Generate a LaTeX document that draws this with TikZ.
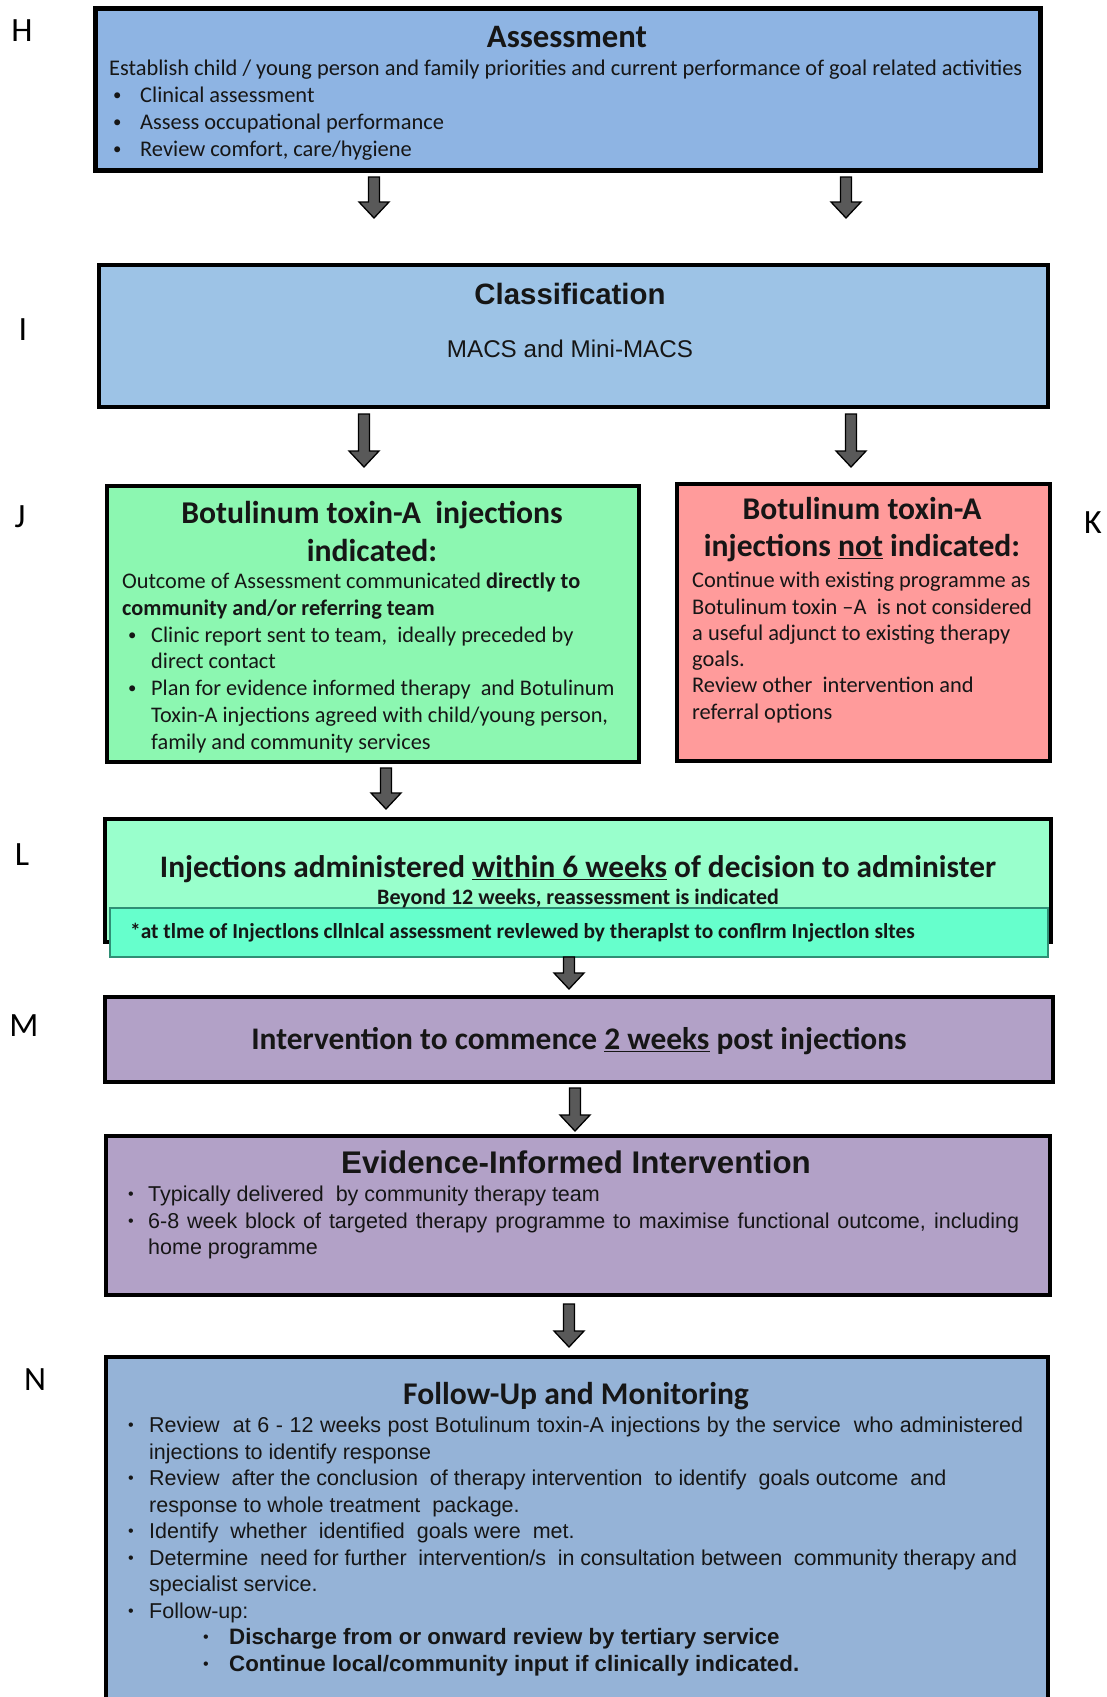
\documentclass[tikz,border=0pt]{standalone}
\usepackage{fontspec}
\usepackage{graphicx}
\setmainfont{Carlito}
\newfontfamily\calfont{Carlito}
\newfontfamily\arialfont{Liberation Sans}
\usetikzlibrary{calc}
\definecolor{cAssess}{HTML}{8EB4E3}
\definecolor{cClass}{HTML}{9DC3E6}
\definecolor{cGreen}{HTML}{8CF7B1}
\definecolor{cRed}{HTML}{FF9B9B}
\definecolor{cMint}{HTML}{99FFCC}
\definecolor{cBand}{HTML}{66FFCC}
\definecolor{cBandEdge}{HTML}{2F8F75}
\definecolor{cPurple}{HTML}{B2A1C7}
\definecolor{cFollow}{HTML}{95B3D7}
\definecolor{cArrow}{HTML}{595959}
\definecolor{cText}{HTML}{161616}
\newcommand\bul{\raisebox{0.1em}{\scalebox{0.75}{•}}}
\tikzset{
  box/.style={draw=black, line width=4pt, inner sep=0pt},
  barrow/.style={fill=cArrow, draw=black, line width=1.3pt, line join=miter},
  txt/.style={text=cText, inner sep=0pt},
  lbl/.style={text=black, inner sep=0pt, font=\calfont\fontsize{34}{40}\selectfont},
  blockL/.style={txt, anchor=north west, align=left},
}
\newcommand\blockarrow[2]{%
  \draw[barrow] (#1) ++(-5.5,0) -- ++(0,#2) -- ++(-9.5,0) -- ++(15,16) -- ++(15,-16) -- ++(-9.5,0) -- ++(0,-#2) -- cycle;}
\begin{document}
\begin{tikzpicture}[x=1pt,y=-1pt]
\fill[white] (0,0) rectangle (1107,1697);
\useasboundingbox (0,0) rectangle (1107,1697);

% ---------- boxes ----------
\node[box, line width=5pt, fill=cAssess, minimum width=945pt, minimum height=162pt] (assess) at (568,89.5) {};
\node[box, fill=cClass, minimum width=949pt, minimum height=142pt] (class) at (573.5,336) {};
\node[box, fill=cGreen, minimum width=532pt, minimum height=276pt] (green) at (373,624) {};
\node[box, fill=cRed, minimum width=373pt, minimum height=277pt] (red) at (863.5,622.5) {};
\node[box, fill=cMint, minimum width=946pt, minimum height=123pt] (inj) at (578,880.5) {};
\node[draw=cBandEdge, fill=cBand, line width=1.5pt, inner sep=0pt, minimum width=938pt, minimum height=49pt] (band) at (579,932.5) {};
\node[box, fill=cPurple, minimum width=948pt, minimum height=85pt] (comm) at (579,1039.5) {};
\node[box, fill=cPurple, minimum width=944pt, minimum height=159pt] (evid) at (578,1215.5) {};
\node[box, fill=cFollow, minimum width=942pt, minimum height=370pt] (follow) at (577,1542) {};

% ---------- arrows ----------
\coordinate (a1) at (374,177);
\coordinate (a2) at (846,177);
\coordinate (a3) at (364,414);
\coordinate (a4) at (851,414);
\coordinate (a5) at (386,768);
\coordinate (a6) at (569,957);
\coordinate (a7) at (575,1088);
\coordinate (a8) at (569,1304);
\blockarrow{a1}{25}
\blockarrow{a2}{25}
\blockarrow{a3}{37}
\blockarrow{a4}{37}
\blockarrow{a5}{25}
\blockarrow{a6}{16}
\blockarrow{a7}{27}
\blockarrow{a8}{27}

% ---------- labels ----------
\node[lbl] (lH) at (22,31) {H};
\node[lbl] (lI) at (23,330) {I};
\node[lbl] (lJ) at (20,517) {J};
\node[lbl] (lK) at (1093,523) {K};
\node[lbl] (lL) at (22,855) {L};
\node[lbl] (lM) at (24,1026) {M};
\node[lbl] (lN) at (35,1380) {N};

% ---------- Assessment ----------
\node[txt, font=\calfont\bfseries\fontsize{32.7}{38}\selectfont] (assessT) at (567,37) {Assessment};
\node[blockL, font=\calfont\fontsize{22.4}{27}\selectfont] (assessB) at (109,60) {Establish child / young person and family priorities and current performance of goal related activities\\
\hspace*{4pt}\makebox[27pt][l]{\bul}Clinical assessment\\
\hspace*{4pt}\makebox[27pt][l]{\bul}Assess occupational performance\\
\hspace*{4pt}\makebox[27pt][l]{\bul}Review comfort, care/hygiene};

% ---------- Classification ----------
\node[txt, font=\arialfont\bfseries\fontsize{29.4}{34}\selectfont] (classT) at (570,294) {Classification};
\node[txt, font=\arialfont\fontsize{24.2}{28}\selectfont] (classB) at (570,349) {MACS and Mini-MACS};

% ---------- indicated ----------
\node[txt, align=center, font=\calfont\bfseries\fontsize{31.7}{38}\selectfont] (greenT) at (372,531) {Botulinum toxin-A\ \ injections\\indicated:};
\node[blockL, font=\calfont\fontsize{22.3}{26.7}\selectfont] (greenB) at (122,573) {Outcome of Assessment communicated \textbf{directly to}\\
\textbf{community and/or referring team}\\
\hspace*{6pt}\makebox[23pt][l]{\bul}Clinic report sent to team,\ \ ideally preceded by\\
\hspace*{29pt}direct contact\\
\hspace*{6pt}\makebox[23pt][l]{\bul}Plan for evidence informed therapy\ \ and Botulinum\\
\hspace*{29pt}Toxin-A injections agreed with child/young person,\\
\hspace*{29pt}family and community services};

% ---------- not indicated ----------
\node[txt, align=center, font=\calfont\bfseries\fontsize{31.6}{37}\selectfont] (redT) at (862,530) {Botulinum toxin-A\\injections \underline{not} indicated:};
\node[blockL, font=\calfont\fontsize{22.4}{26.3}\selectfont] (redB) at (692,572) {Continue with existing programme as\\
Botulinum toxin –A\ \ is not considered\\
a useful adjunct to existing therapy\\
goals.\\
Review other\ \ intervention and\\
referral options};

% ---------- injections ----------
\node[txt, font=\calfont\bfseries\fontsize{31.3}{36}\selectfont] (injT) at (578,869) {Injections administered \underline{within 6 weeks} of decision to administer};
\node[txt, font=\calfont\bfseries\fontsize{22}{26}\selectfont] (injB) at (578,898) {Beyond 12 weeks, reassessment is indicated};
\node[txt, anchor=west, font=\calfont\bfseries\fontsize{21.4}{25}\selectfont] (bandT) at (130,933) {*at tlme of Injectlons cllnlcal assessment revlewed by theraplst to conflrm Injectlon sltes};

% ---------- commence ----------
\node[txt, font=\calfont\bfseries\fontsize{31.4}{36}\selectfont] (commT) at (579,1041) {Intervention to commence \underline{2 weeks} post injections};

% ---------- evidence ----------
\node[txt, font=\arialfont\bfseries\fontsize{31.3}{36}\selectfont] (evidT) at (576,1162) {Evidence-Informed Intervention};
\node[blockL, font=\arialfont\fontsize{21.5}{26.5}\selectfont] (evidB) at (128,1186) {\makebox[20pt][l]{\bul}Typically delivered\ \ by community therapy team\\
\makebox[20pt][l]{\bul}\makebox[871pt][s]{6-8 week block of targeted therapy programme to maximise functional outcome, including}\\
\hspace*{20pt}home programme};

% ---------- follow-up ----------
\node[txt, font=\calfont\bfseries\fontsize{31.6}{36}\selectfont] (followT) at (576,1396) {Follow-Up and Monitoring};
\node[blockL, font=\arialfont\fontsize{21.5}{26.5}\selectfont] (followB) at (128,1417) {\makebox[21pt][l]{\bul}\makebox[874pt][s]{Review\ \ at 6 - 12 weeks post Botulinum toxin-A injections by the service\ \ who administered}\\
\hspace*{21pt}injections to identify response\\
\makebox[21pt][l]{\bul}Review\ \ after the conclusion\ \ of therapy intervention\ \ to identify\ \ goals outcome\ \ and\\
\hspace*{21pt}response to whole treatment\ \ package.\\
\makebox[21pt][l]{\bul}Identify\ \ whether\ \ identified\ \ goals were\ \ met.\\
\makebox[21pt][l]{\bul}\makebox[868pt][s]{Determine\ \ need for further\ \ intervention/s\ \ in consultation between\ \ community therapy and}\\
\hspace*{21pt}specialist service.\\
\makebox[21pt][l]{\bul}Follow-up:\\
\hspace*{75pt}\makebox[26pt][l]{\bul}\textbf{\fontsize{22.3}{26.5}\selectfont Discharge from or onward review by tertiary service}\\
\hspace*{75pt}\makebox[26pt][l]{\bul}\textbf{\fontsize{22.3}{26.5}\selectfont Continue local/community input if clinically indicated.}};
\end{tikzpicture}
\end{document}
